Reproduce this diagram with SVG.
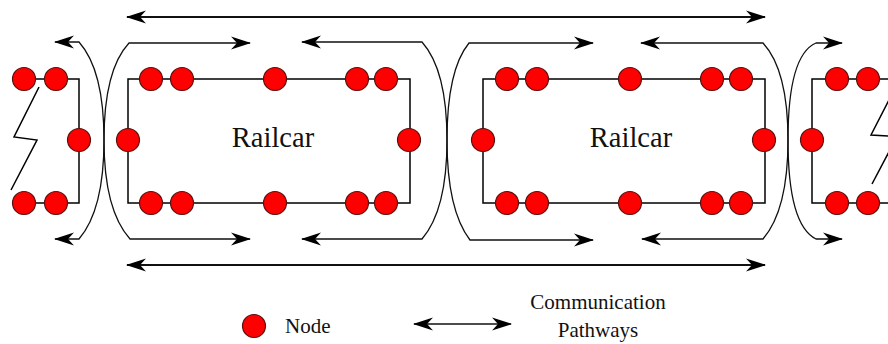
<svg xmlns="http://www.w3.org/2000/svg" width="888" height="344" viewBox="0 0 888 344">
<style>
.car{fill:none;stroke:#000;stroke-width:1.5}
.nd{fill:#ff0000;stroke:#5a1010;stroke-width:1.2}
.path{fill:none;stroke:#111;stroke-width:1.3}
.long{fill:none;stroke:#111;stroke-width:1.8}
.lbl{font-family:"Liberation Serif","Times New Roman",serif;fill:#111}
</style>
<defs>
<marker id="ah" markerUnits="userSpaceOnUse" markerWidth="24" markerHeight="16" viewBox="-20 -8 22 16" refX="0" refY="0" orient="auto-start-reverse">
<path d="M1,0 L-19,-6.5 L-13,0 L-19,6.5 Z" fill="#000"/>
</marker>
</defs>
<rect width="888" height="344" fill="#fff"/>

<g id="connectors">
<line class="long" x1="127" y1="17" x2="765" y2="17" marker-start="url(#ah)" marker-end="url(#ah)"/>
<line class="long" x1="127" y1="265" x2="765" y2="265" marker-start="url(#ah)" marker-end="url(#ah)"/>
<path class="path" d="M55,42 L79,42 Q104,70 104,140 Q104,210 79,239 L55,239" marker-start="url(#ah)" marker-end="url(#ah)"/>
<path class="path" d="M250,43 L129,43 Q104,70 104,140 Q104,210 130,239 L250,239" marker-start="url(#ah)" marker-end="url(#ah)"/>
<path class="path" d="M302,42 L422,42 Q447,70 447,140 Q447,210 422,239 L302,239" marker-start="url(#ah)" marker-end="url(#ah)"/>
<path class="path" d="M593,43 L469,43 Q447,70 447,140 Q447,210 470,240 L593,240" marker-start="url(#ah)" marker-end="url(#ah)"/>
<path class="path" d="M641,43 L763,43 Q788,70 788,140 Q788,210 763,239 L642,239" marker-start="url(#ah)" marker-end="url(#ah)"/>
<path class="path" d="M842,43 L816,43 Q788,55 788,140 Q788,225 816,239 L842,239" marker-start="url(#ah)" marker-end="url(#ah)"/>
</g>

<g id="railcar-left-partial">
<path class="car" d="M24,79 L79,79 L79,203 L24,203"/>
<path class="car" d="M39,87 L14,137 L37,140 L11,190" stroke-width="1.2"/>
<circle class="nd" cx="24" cy="79" r="11.5"/>
<circle class="nd" cx="56" cy="79" r="11.5"/>
<circle class="nd" cx="79" cy="140" r="11.5"/>
<circle class="nd" cx="24" cy="203" r="11.5"/>
<circle class="nd" cx="56" cy="203" r="11.5"/>
</g>

<g id="railcar-1">
<rect class="car" x="128" y="79" width="282" height="124"/>
<circle class="nd" cx="151" cy="79" r="11.5"/>
<circle class="nd" cx="182" cy="79" r="11.5"/>
<circle class="nd" cx="275" cy="79" r="11.5"/>
<circle class="nd" cx="357" cy="79" r="11.5"/>
<circle class="nd" cx="386" cy="79" r="11.5"/>
<circle class="nd" cx="128" cy="140" r="11.5"/>
<circle class="nd" cx="409" cy="140" r="11.5"/>
<circle class="nd" cx="151" cy="203" r="11.5"/>
<circle class="nd" cx="182" cy="203" r="11.5"/>
<circle class="nd" cx="275" cy="203" r="11.5"/>
<circle class="nd" cx="357" cy="203" r="11.5"/>
<circle class="nd" cx="386" cy="203" r="11.5"/>
<text class="lbl" x="273" y="147" font-size="28.5" text-anchor="middle">Railcar</text>
</g>

<g id="railcar-2">
<rect class="car" x="483" y="79" width="282" height="124"/>
<circle class="nd" cx="507" cy="79" r="11.5"/>
<circle class="nd" cx="537" cy="79" r="11.5"/>
<circle class="nd" cx="630" cy="79" r="11.5"/>
<circle class="nd" cx="712" cy="79" r="11.5"/>
<circle class="nd" cx="741" cy="79" r="11.5"/>
<circle class="nd" cx="483" cy="140" r="11.5"/>
<circle class="nd" cx="764" cy="140" r="11.5"/>
<circle class="nd" cx="507" cy="203" r="11.5"/>
<circle class="nd" cx="537" cy="203" r="11.5"/>
<circle class="nd" cx="630" cy="203" r="11.5"/>
<circle class="nd" cx="712" cy="203" r="11.5"/>
<circle class="nd" cx="741" cy="203" r="11.5"/>
<text class="lbl" x="631" y="147" font-size="28.5" text-anchor="middle">Railcar</text>
</g>

<g id="railcar-right-partial">
<path class="car" d="M890,79 L812,79 L812,203 L890,203"/>
<path class="car" d="M892,94 L871,135 L890,136" stroke-width="1.2"/>
<path class="car" d="M892,146 L872,184" stroke-width="1.2"/>
<circle class="nd" cx="837" cy="79" r="11.5"/>
<circle class="nd" cx="868" cy="79" r="11.5"/>
<circle class="nd" cx="812" cy="140" r="11.5"/>
<circle class="nd" cx="837" cy="203" r="11.5"/>
<circle class="nd" cx="868" cy="203" r="11.5"/>
</g>

<g id="legend">
<circle class="nd" cx="254" cy="326" r="11.5"/>
<text class="lbl" x="285" y="333" font-size="21">Node</text>
<line class="path" x1="414" y1="324" x2="511" y2="324" stroke-width="1.5" marker-start="url(#ah)" marker-end="url(#ah)"/>
<text class="lbl" x="598" y="309" font-size="21" text-anchor="middle">Communication</text>
<text class="lbl" x="598" y="337" font-size="21" text-anchor="middle">Pathways</text>
</g>
</svg>
